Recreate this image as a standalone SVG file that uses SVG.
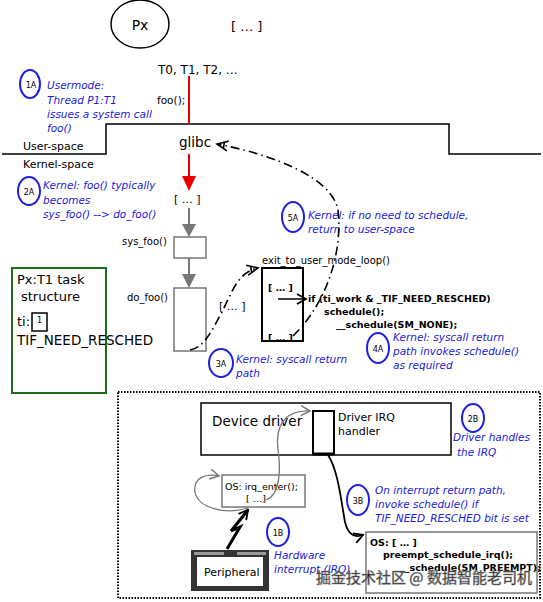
<svg xmlns="http://www.w3.org/2000/svg" width="543" height="602" viewBox="0 0 543 602">
<defs>
<style>
text{font-family:"DejaVu Sans","Liberation Sans",sans-serif;fill:#000}
.b{fill:#2020dd;font-style:italic;font-size:10.5px}
.c{fill:none;stroke:#2020dd;stroke-width:2}
.cl{font-size:8px;fill:#000;text-anchor:middle}
.g{fill:#fff;stroke:#777;stroke-width:1.5}
.bold{font-weight:bold;font-size:9.5px}
.dd{fill:none;stroke:#000;stroke-width:1.6;stroke-dasharray:9,4,1.5,4}
</style>
<marker id="ok" markerWidth="14" markerHeight="12" refX="12" refY="6" orient="auto" markerUnits="userSpaceOnUse">
<path d="M1,1 L12,6 L1,11 M5,3 L5,9" fill="none" stroke="#000" stroke-width="1.6"/>
</marker>
<marker id="kb" markerWidth="12" markerHeight="12" refX="10" refY="6" orient="auto" markerUnits="userSpaceOnUse">
<path d="M1,1 L10,6 L1,11" fill="none" stroke="#000" stroke-width="1.8"/>
</marker>
<marker id="gv" markerWidth="12" markerHeight="12" refX="10" refY="6" orient="auto" markerUnits="userSpaceOnUse">
<path d="M1,1 L10,6 L1,11" fill="none" stroke="#777" stroke-width="1.5"/>
</marker>
</defs>
<rect width="543" height="602" fill="#fff"/>

<g id="px">
<ellipse cx="140" cy="24" rx="29" ry="24" fill="none" stroke="#000" stroke-width="1.5"/>
<text x="140" y="30" font-size="14" text-anchor="middle">Px</text>
</g>
<text x="231" y="31" font-size="13">[ … ]</text>
<text x="158" y="74" font-size="12">T0, T1, T2, …</text>
<text x="157" y="104" font-size="10.5">foo();</text>

<g id="glibc">
<path d="M2,154 H106 V124 H449 V154 H541" fill="none" stroke="#000" stroke-width="1.5"/>
<text x="179" y="147" font-size="13.5">glibc</text>
</g>
<text x="23" y="150" font-size="11">User-space</text>
<text x="23" y="168" font-size="11">Kernel-space</text>

<g id="n1A">
<ellipse class="c" cx="30" cy="84" rx="10" ry="14"/>
<text class="cl" x="31" y="88">1A</text>
<text class="b" x="47" y="89">Usermode:</text>
<text class="b" x="47" y="104">Thread P1:T1</text>
<text class="b" x="47" y="118">issues a system call</text>
<text class="b" x="47" y="132">foo()</text>
</g>

<g id="n2A">
<ellipse class="c" cx="29" cy="191" rx="11" ry="14"/>
<text class="cl" x="29" y="195">2A</text>
<text class="b" x="43" y="189">Kernel: foo() typically</text>
<text class="b" x="43" y="204">becomes</text>
<text class="b" x="43" y="218">sys_foo() --&gt; do_foo()</text>
</g>

<text x="174" y="203" font-size="11">[ … ]</text>

<g id="sys_foo">
<rect class="g" x="174" y="237" width="32" height="21"/>
<text x="122" y="245" font-size="10">sys_foo()</text>
</g>
<g id="do_foo">
<rect class="g" x="174" y="288" width="32" height="63"/>
<text x="127" y="301" font-size="10">do_foo()</text>
</g>
<text x="219" y="310" font-size="11">[ … ]</text>

<g id="exit_loop">
<rect x="262" y="268" width="41" height="73" fill="#fff" stroke="#000" stroke-width="2"/>
<text x="262" y="264" font-size="10">exit_to_user_mode_loop()</text>
<text class="bold" x="268" y="291">[ … ]</text>
<text class="bold" x="268" y="341">[ … ]</text>
</g>
<g id="code_sched">
<text class="bold" x="308" y="302">if (ti_work &amp; _TIF_NEED_RESCHED)</text>
<text class="bold" x="324" y="315">schedule();</text>
<text class="bold" x="336" y="328">__schedule(SM_NONE);</text>
</g>

<g id="n5A">
<ellipse class="c" cx="293" cy="217" rx="11" ry="15"/>
<text class="cl" x="293" y="221">5A</text>
<text class="b" x="308" y="219">Kernel: if no need to schedule,</text>
<text class="b" x="308" y="233">return to user-space</text>
</g>
<g id="n3A">
<ellipse class="c" cx="221" cy="363" rx="12" ry="14"/>
<text class="cl" x="221" y="367">3A</text>
<text class="b" x="236" y="363">Kernel: syscall return</text>
<text class="b" x="236" y="377">path</text>
</g>
<g id="n4A">
<ellipse class="c" cx="378" cy="348" rx="11" ry="15"/>
<text class="cl" x="378" y="352">4A</text>
<text class="b" x="393" y="341">Kernel: syscall return</text>
<text class="b" x="393" y="355">path invokes schedule()</text>
<text class="b" x="393" y="369">as required</text>
</g>

<g id="task_struct">
<rect x="12" y="268" width="94" height="125" fill="none" stroke="#1a6e1a" stroke-width="2"/>
<text x="17" y="284" font-size="13">Px:T1 task</text>
<text x="21" y="301" font-size="13">structure</text>
<text x="17" y="326" font-size="13">ti:</text>
<rect x="32" y="313" width="15" height="18" fill="#fff" stroke="#000" stroke-width="1.5"/>
<text x="39.5" y="323" font-size="8" text-anchor="middle">1</text>
<text x="17" y="345" font-size="13.5">TIF_NEED_RESCHED</text>
</g>

<rect id="irq_area" x="118" y="392" width="422" height="206" fill="none" stroke="#000" stroke-width="2" stroke-dasharray="1.5,1.5"/>

<g id="device_driver">
<rect x="201" y="403" width="250" height="52" fill="#fff" stroke="#000" stroke-width="1.5"/>
<text x="212" y="426" font-size="13.5">Device driver</text>
</g>
<g id="irq_handler">
<rect x="313" y="411" width="21" height="43" fill="#fff" stroke="#000" stroke-width="2"/>
<line x1="313" y1="454" x2="334" y2="454" stroke="#000" stroke-width="3"/>
<text x="338" y="421" font-size="11">Driver IRQ</text>
<text x="338" y="435" font-size="11">handler</text>
</g>
<g id="n2B">
<ellipse class="c" cx="473" cy="418" rx="11" ry="14"/>
<text class="cl" x="473" y="422">2B</text>
<text class="b" x="453" y="441">Driver handles</text>
<text class="b" x="457" y="456">the IRQ</text>
</g>

<g id="irq_enter">
<rect class="g" x="222" y="475" width="83" height="32"/>
<text x="225" y="490" font-size="9.5">OS: irq_enter();</text>
<text x="246" y="502" font-size="9.5">[ …]</text>
</g>

<g id="peripheral">
<rect x="191" y="550" width="78" height="41" fill="#333"/>
<rect x="197" y="557" width="66" height="29" fill="#fff"/>
<rect x="194" y="552" width="30" height="3" fill="#999"/>
<rect x="237" y="552" width="29" height="3" fill="#999"/>
<text x="204" y="576" font-size="11">Peripheral</text>
</g>
<g id="n1B">
<ellipse class="c" cx="278" cy="532" rx="11" ry="14"/>
<text class="cl" x="278" y="536">1B</text>
<text class="b" x="274" y="559">Hardware</text>
<text class="b" x="274" y="573">interrupt (IRQ)</text>
</g>
<g id="n3B">
<ellipse class="c" cx="358" cy="500" rx="11" ry="15"/>
<text class="cl" x="358" y="504">3B</text>
<text class="b" x="375" y="494">On interrupt return path,</text>
<text class="b" x="375" y="508">invoke schedule() if</text>
<text class="b" x="375" y="522">TIF_NEED_RESCHED bit is set</text>
</g>

<g id="os_preempt">
<rect x="366" y="532" width="171" height="61" fill="#fff" stroke="#777" stroke-width="1.5"/>
<text class="bold" x="370" y="546">OS: [ … ]</text>
<text class="bold" x="383" y="558">preempt_schedule_irq();</text>
<text class="bold" x="400" y="571">__schedule(SM_PREEMPT);</text>
</g>

<g id="connectors">
<line x1="189" y1="76" x2="189" y2="124" stroke="#e00" stroke-width="2"/>
<line x1="189" y1="154" x2="189" y2="178" stroke="#e00" stroke-width="2"/>
<path d="M182,176 L196,176 L189,191 Z" fill="#e00"/>
<line x1="189" y1="208" x2="189" y2="225" stroke="#777" stroke-width="2"/>
<path d="M182,224 L196,224 L189,237 Z" fill="#777"/>
<line x1="189" y1="258" x2="189" y2="275" stroke="#777" stroke-width="2"/>
<path d="M182,274 L196,274 L189,288 Z" fill="#777"/>
<path class="dd" d="M190,350 C205,347 212,330 222,312 C232,292 238,272 258,268" marker-end="url(#ok)"/>
<path class="dd" d="M293,336 C325,305 343,255 338,210 C332,178 275,155 217,144" marker-end="url(#ok)"/>
<line x1="278" y1="299" x2="306" y2="299" stroke="#000" stroke-width="1.5" marker-end="url(#kb)"/>
<path d="M328,455 C338,470 341,500 345,522 C348,535 355,538 363,535" fill="none" stroke="#000" stroke-width="1.8" marker-end="url(#kb)"/>
<path d="M227,549 L240,527 L231,531 L248,510" fill="none" stroke="#000" stroke-width="3" marker-end="url(#kb)"/>
<path d="M248,508 C225,515 198,508 195,492 C193,478 205,473 219,476" fill="none" stroke="#777" stroke-width="1.3" marker-end="url(#gv)"/>
<path d="M266,500 C280,495 281,470 278,450 C275,425 285,410 310,411" fill="none" stroke="#777" stroke-width="1.3" marker-end="url(#gv)"/>
</g>

<text x="316" y="583" font-size="15" fill="#eee" stroke="#888" stroke-width="0.6" style="font-family:'Noto Sans CJK SC',sans-serif">掘金技术社区 @ 数据智能老司机</text>
</svg>
